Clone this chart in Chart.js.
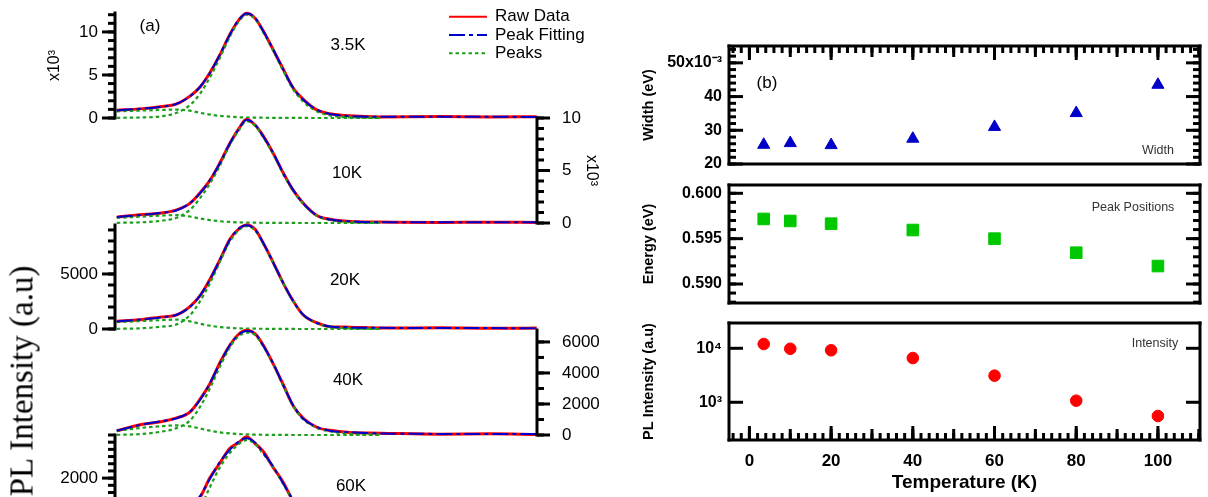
<!DOCTYPE html>
<html>
<head>
<meta charset="utf-8">
<script src="https://cdn.jsdelivr.net/npm/chart.js@4.4.1/dist/chart.umd.min.js"></script>
<style>
html, body { margin: 0; padding: 0; background: #fff; overflow: hidden; }
#wrap { position: relative; width: 1208px; height: 497px; overflow: hidden; font-family: "Liberation Sans", Arial, sans-serif; }
canvas { position: absolute; }
.lbl { position: absolute; transform: translate(-50%, -50%); white-space: nowrap; color: #000; }
</style>
</head>
<body>
<div id="wrap"></div>
<script>
// shared energy axis of the spectra (eV), no axis drawn for it
const energy = [0.5447, 0.5540, 0.5620, 0.5687, 0.5740, 0.5780, 0.5820, 0.5860, 0.5900, 0.5934, 0.5967, 0.6001,
                0.6034, 0.6074, 0.6114, 0.6154, 0.6194, 0.6248, 0.6301, 0.6381, 0.6501, 0.6742, 0.6942, 0.7129];

// 3.5K
const raw35  = [900, 1060, 1310, 1640, 2540, 3570, 5260, 7330, 9720, 11320, 12180, 11600, 10110, 7900, 5660, 3460, 2170, 940, 490, 250, 130, 170, 120, 140];
const fit35  = [880, 1080, 1280, 1660, 2510, 3600, 5230, 7360, 9690, 11350, 12150, 11630, 10070, 7940, 5620, 3490, 2130, 965, 465, 233, 150, 150, 140, 120];
const main35 = [20, 60, 180, 600, 1500, 2800, 4700, 7000, 9450, 11150, 12000, 11500, 9950, 7800, 5450, 3300, 1900, 780, 300, 80, 20];
const sh35   = [780, 860, 930, 980, 850, 600, 400, 250, 150, 90, 60, 40, 30, 20, 15, 10, 5, 0, 0, 0, 0];
// 10K
const raw10  = [560, 790, 930, 1250, 1870, 2850, 4060, 5720, 7570, 8910, 9880, 9330, 8270, 6620, 4760, 3100, 1890, 720, 350, 140, 90, 40, 80, 50];
const fit10  = [575, 760, 950, 1220, 1900, 2817, 4090, 5690, 7600, 8880, 9840, 9360, 8240, 6650, 4730, 3130, 1860, 740, 325, 163, 67, 60, 60, 60];
const main10 = [20, 60, 200, 500, 1250, 2350, 3750, 5450, 7450, 8750, 9700, 9250, 8150, 6550, 4650, 3050, 1800, 700, 280, 80, 20];
const sh10   = [480, 600, 700, 760, 620, 430, 280, 170, 100, 60, 40, 30, 20, 15, 10, 5, 0, 0, 0, 0, 0];
// 20K
const raw20  = [710, 840, 1080, 1280, 2030, 3000, 4510, 6270, 8150, 9060, 9440, 9060, 7790, 6030, 4150, 2540, 1270, 570, 210, 170, 90, 110, 60, 90];
const fit20  = [690, 860, 1050, 1300, 2000, 3027, 4480, 6300, 8118, 9090, 9420, 9027, 7818, 6000, 4180, 2509, 1300, 545, 236, 145, 110, 90, 80, 70];
const main20 = [20, 60, 200, 420, 1250, 2500, 4150, 6100, 7950, 8950, 9350, 8950, 7750, 5950, 4150, 2480, 1280, 520, 200, 60, 20];
const sh20   = [620, 720, 800, 850, 700, 480, 300, 180, 100, 60, 40, 30, 20, 15, 10, 5, 0, 0, 0, 0, 0];
// 40K
const raw40  = [270, 660, 850, 1100, 1480, 2290, 3300, 4660, 5780, 6480, 6750, 6520, 5790, 4570, 3240, 1870, 1080, 500, 300, 160, 120, 50, 80, 40];
const fit40  = [280, 650, 870, 1077, 1503, 2258, 3335, 4625, 5805, 6450, 6700, 6550, 5750, 4600, 3200, 1900, 1050, 520, 280, 180, 100, 70, 60, 60];
const main40 = [10, 60, 200, 450, 930, 1800, 3000, 4400, 5650, 6350, 6600, 6450, 5700, 4550, 3150, 1850, 1000, 470, 230, 80, 20];
const sh40   = [270, 450, 560, 620, 560, 420, 280, 170, 100, 60, 40, 25, 15, 10, 5, 0, 0, 0, 0, 0, 0];
// 60K
const raw60  = [320, 430, 630, 830, 1230, 1460, 2010, 2420, 2830, 2980, 3150, 2960, 2740, 2290, 1880, 1350, 980, 520, 330, 130, 100, 30, 60, 30];
const fit60  = [300, 450, 600, 850, 1200, 1490, 1980, 2450, 2790, 3010, 3110, 2990, 2700, 2320, 1850, 1380, 950, 550, 300, 150, 80, 50, 40, 40];
const main60 = [10, 40, 120, 300, 700, 1150, 1750, 2300, 2700, 2940, 3060, 2950, 2670, 2300, 1830, 1370, 940, 540, 290, 140, 60];
const sh60   = [150, 220, 300, 380, 350, 280, 200, 130, 80, 50, 30, 20, 15, 10, 5, 0, 0, 0, 0, 0, 0];

// panel (b)
const temps   = [3.5, 10, 20, 40, 60, 80, 100];
const widthEV = [0.0257, 0.0262, 0.0256, 0.0275, 0.0310, 0.0351, 0.0435];
const peakEV  = [0.59717, 0.59695, 0.59665, 0.59595, 0.5950, 0.59345, 0.59198];
const plInt   = [12000, 9800, 9180, 6600, 3110, 1070, 557];

// tick labels
const ticks35 = [0, 5000, 10000];
const ticks10 = [0, 5000, 10000];
const ticks20 = [0, 5000];
const ticks40 = [0, 2000, 4000, 6000];
const ticks60 = [2000];
const tempTicks = [0, 20, 40, 60, 80, 100];
const widthTicks = [0.02, 0.03, 0.04, 0.05];
const energyTicks = [0.590, 0.595, 0.600];
const intTicks = [1000, 10000];

Chart.defaults.font.family = '"Liberation Sans", Arial, sans-serif';
Chart.defaults.color = '#000';
Chart.defaults.plugins.legend.display = false;
Chart.defaults.plugins.tooltip.enabled = false;

function stepValues(min, max, step) {
    const out = [];
    for (let k = Math.ceil(min / step - 1e-6); k * step <= max + step * 1e-6; k++) out.push(k * step);
    return out;
}

// axis lines, boxes and tick marks; spec hangs on the canvas (kept out of chart.js option proxies)
const frame = {
    id: 'frame',
    afterDraw(chart) {
        const spec = chart.canvas.frameSpec;
        if (!spec) return;
        const ctx = chart.ctx, a = chart.chartArea;
        ctx.save();
        ctx.strokeStyle = '#000';
        ctx.lineWidth = 3;
        ctx.lineCap = 'square';
        (spec.lines || []).forEach(side => {
            ctx.beginPath();
            if (side === 'left') { ctx.moveTo(a.left, a.top); ctx.lineTo(a.left, a.bottom); }
            if (side === 'right') { ctx.moveTo(a.right, a.top); ctx.lineTo(a.right, a.bottom); }
            if (side === 'top') { ctx.moveTo(a.left, a.top); ctx.lineTo(a.right, a.top); }
            if (side === 'bottom') { ctx.moveTo(a.left, a.bottom); ctx.lineTo(a.right, a.bottom); }
            ctx.stroke();
        });
        ctx.lineCap = 'butt';
        (spec.marks || []).forEach(m => {
            const sc = chart.scales[m.scale];
            m.sets.forEach(set => {
                const vals = set.at || stepValues(sc.min, sc.max, set.step);
                ctx.lineWidth = set.width || 3;
                const len = m.inward ? set.len : -set.len;
                vals.forEach(v => {
                    const p = sc.getPixelForValue(v);
                    ctx.beginPath();
                    if (m.side === 'left') { ctx.moveTo(a.left, p); ctx.lineTo(a.left + len, p); }
                    if (m.side === 'right') { ctx.moveTo(a.right, p); ctx.lineTo(a.right - len, p); }
                    if (m.side === 'top') { ctx.moveTo(p, a.top); ctx.lineTo(p, a.top + len); }
                    if (m.side === 'bottom') { ctx.moveTo(p, a.bottom); ctx.lineTo(p, a.bottom - len); }
                    ctx.stroke();
                });
            });
        });
        ctx.restore();
    }
};

// legend of panel (a), drawn from the dataset styles
const legendLines = {
    id: 'legendLines',
    afterDraw(chart) {
        const o = chart.canvas.legendSpec;
        if (!o) return;
        const ctx = chart.ctx, a = chart.chartArea;
        ctx.save();
        o.order.forEach((lab, i) => {
            const ds = chart.data.datasets.find(d => d.label === lab);
            const x = a.left + o.x, y = a.top + o.y + i * o.dy;
            ctx.strokeStyle = ds.borderColor;
            ctx.lineWidth = 2;
            ctx.setLineDash(ds.borderDash || []);
            ctx.beginPath();
            ctx.moveTo(x, y);
            ctx.lineTo(x + o.len, y);
            ctx.stroke();
            ctx.setLineDash([]);
            ctx.fillStyle = '#000';
            ctx.font = '17px "Liberation Sans", Arial, sans-serif';
            ctx.textBaseline = 'middle';
            ctx.fillText(lab, x + o.len + 8, y);
        });
        ctx.restore();
    }
};
Chart.register(frame, legendLines);

const P = 40;
const wrap = document.getElementById('wrap');

// canvas placed so the chart area lands on the given page rectangle
function place(area, cfg, frameSpec, legendSpec) {
    const padR = area.padR || 0;
    const c = document.createElement('canvas');
    c.width = area.r - area.l + area.axL + area.axR + 2 * P + padR;
    c.height = area.b - area.t + area.axB + 2 * P;
    c.style.left = (area.l - area.axL - P) + 'px';
    c.style.top = (area.t - P) + 'px';
    c.frameSpec = frameSpec;
    c.legendSpec = legendSpec;
    wrap.appendChild(c);
    const o = cfg.options;
    o.responsive = false;
    o.animation = false;
    o.layout = { padding: { left: P, top: P, bottom: P, right: P + padR } };
    Object.values(o.scales).forEach(s => {
        s.afterFit = sc => {
            if (sc.isHorizontal()) sc.height = sc.options.display ? area.axB : 0;
            else sc.width = sc.options.position === 'right' ? area.axR : area.axL;
            sc.paddingTop = sc.paddingBottom = sc.paddingLeft = sc.paddingRight = 0;
        };
    });
    return new Chart(c, cfg);
}

function pts(vals) {
    return vals.map((v, i) => ({ x: energy[i], y: v }));
}

function line(label, vals, color, dash, width) {
    return {
        label, data: pts(vals), borderColor: color, borderWidth: width, borderDash: dash,
        pointRadius: 0, fill: false, cubicInterpolationMode: 'monotone', clip: false
    };
}

const GREEN = '#1ca01c';

function spectrum(area, s) {
    return place(area, {
        type: 'line',
        data: {
            datasets: [
                line('Peak Fitting', s.fit, '#0000cc', [16, 4, 4, 4], 2),
                line('Peaks', s.main, GREEN, [3.5, 3], 2.2),
                line('Peaks', s.sh, GREEN, [3.5, 3], 2.2),
                line('Raw Data', s.raw, '#ff0000', [], 3)
            ]
        },
        options: {
            scales: {
                x: { type: 'linear', min: 0.544, max: 0.713, display: false },
                y: {
                    type: 'linear', position: s.side, min: 0, max: s.max,
                    afterBuildTicks: sc => { sc.ticks = s.ticks.map(v => ({ value: v })); },
                    ticks: { callback: s.fmt, font: { size: 17 }, color: '#000', padding: s.side === 'left' ? 17 : 25 },
                    grid: { display: false, drawTicks: false },
                    border: { display: false },
                    title: s.title
                        ? { display: true, text: 'x10³', font: { size: 16 }, color: '#000', padding: { top: s.titlePad, bottom: 0 } }
                        : { display: false }
                }
            }
        }
    }, { lines: [s.side], marks: [{ scale: 'y', side: s.side, inward: false, sets: s.sets }] }, s.legend);
}

const kilo = v => v / 1000;
const plain = v => v;

spectrum({ l: 115, r: 537, t: 13, b: 118, axL: 115, axR: 0, axB: 0, padR: 90 }, {
    side: 'left', raw: raw35, fit: fit35, main: main35, sh: sh35, max: 12200, ticks: ticks35, fmt: kilo,
    sets: [{ step: 5000, len: 13 }, { step: 1000, len: 7 }], title: true, titlePad: 45,
    legend: { order: ['Raw Data', 'Peak Fitting', 'Peaks'], x: 334, y: 3.7, dy: 18.3, len: 38 }
});
spectrum({ l: 115, r: 537, t: 118, b: 223, axL: 0, axR: 70, axB: 0 }, {
    side: 'right', raw: raw10, fit: fit10, main: main10, sh: sh10, max: 10000, ticks: ticks10, fmt: kilo,
    sets: [{ step: 5000, len: 13 }, { step: 1000, len: 7 }], title: true, titlePad: 6
});
spectrum({ l: 115, r: 537, t: 225, b: 329, axL: 115, axR: 0, axB: 0 }, {
    side: 'left', raw: raw20, fit: fit20, main: main20, sh: sh20, max: 9450, ticks: ticks20, fmt: plain,
    sets: [{ step: 5000, len: 13 }, { step: 1000, len: 7 }]
});
spectrum({ l: 115, r: 537, t: 330, b: 435, axL: 0, axR: 70, axB: 0 }, {
    side: 'right', raw: raw40, fit: fit40, main: main40, sh: sh40, max: 6770, ticks: ticks40, fmt: plain,
    sets: [{ step: 2000, len: 13 }, { step: 1000, len: 7 }]
});
spectrum({ l: 115, r: 537, t: 435, b: 550, axL: 115, axR: 0, axB: 0 }, {
    side: 'left', raw: raw60, fit: fit60, main: main60, sh: sh60, max: 3200, ticks: ticks60, fmt: plain,
    sets: [{ step: 2000, len: 13 }, { step: 200, len: 7 }]
});

// panel (b)
const boldTick = { size: 16, weight: 'bold' };
const boldTitle = { size: 14.5, weight: 'bold' };
const xMarks = [{ step: 20, len: 14 }, { step: 10, len: 11 }, { step: 2, len: 7 }];

function yAxis(min, max, tickVals, fmt, title, type) {
    return {
        type: type || 'linear', position: 'left', min, max,
        afterBuildTicks: sc => { sc.ticks = tickVals.map(v => ({ value: v })); },
        ticks: { callback: fmt, font: boldTick, color: '#000', padding: 7 },
        grid: { display: false, drawTicks: false },
        border: { display: false },
        title: { display: true, text: title, font: boldTitle, color: '#000', padding: { top: 1, bottom: 0 } }
    };
}

function scatterSet(label, vals, style, radius, color) {
    return {
        label, data: temps.map((t, i) => ({ x: t, y: vals[i] })), pointStyle: style, pointRadius: radius,
        backgroundColor: color, borderColor: color, borderWidth: 1, showLine: false, clip: false
    };
}

const box = ['left', 'right', 'top', 'bottom'];

place({ l: 729, r: 1200, t: 46, b: 164, axL: 90, axR: 0, axB: 0 }, {
    type: 'scatter',
    data: { datasets: [scatterSet('Width', widthEV, 'triangle', 7, '#0000c8')] },
    options: {
        scales: {
            x: { type: 'linear', min: -5, max: 110.3, display: false },
            y: yAxis(0.020, 0.0550, widthTicks,
                v => Math.abs(v - 0.05) < 1e-9 ? '50x10⁻³' : String(Math.round(v * 1000)), 'Width (eV)')
        }
    }
}, {
    lines: box,
    marks: [
        { scale: 'y', side: 'left', inward: true, sets: [{ step: 0.01, len: 14 }, { step: 0.002, len: 7 }] },
        { scale: 'y', side: 'right', inward: true, sets: [{ step: 0.01, len: 14 }, { step: 0.002, len: 7 }] },
        { scale: 'x', side: 'top', inward: true, sets: xMarks }
    ]
});

place({ l: 729, r: 1200, t: 185, b: 303, axL: 90, axR: 0, axB: 0 }, {
    type: 'scatter',
    data: { datasets: [scatterSet('Peak Positions', peakEV, 'rect', 8.2, '#00c800')] },
    options: {
        scales: {
            x: { type: 'linear', min: -5, max: 110.3, display: false },
            y: yAxis(0.587905, 0.600915, energyTicks, v => v.toFixed(3), 'Energy (eV)')
        }
    }
}, {
    lines: box,
    marks: [
        { scale: 'y', side: 'left', inward: true, sets: [{ step: 0.005, len: 14 }, { step: 0.001, len: 7 }] },
        { scale: 'y', side: 'right', inward: true, sets: [{ step: 0.005, len: 14 }, { step: 0.001, len: 7 }] }
    ]
});

place({ l: 729, r: 1200, t: 323, b: 440, axL: 90, axR: 0, axB: 54 }, {
    type: 'scatter',
    data: { datasets: [scatterSet('Intensity', plInt, 'circle', 5.8, '#ff0000')] },
    options: {
        scales: {
            x: {
                type: 'linear', position: 'bottom', min: -5, max: 110.3,
                afterBuildTicks: sc => { sc.ticks = tempTicks.map(v => ({ value: v })); },
                ticks: { font: { size: 17, weight: 'bold' }, color: '#000', padding: 11, maxRotation: 0 },
                grid: { display: false, drawTicks: false },
                border: { display: false },
                title: { display: true, text: 'Temperature (K)', font: { size: 19, weight: 'bold' }, color: '#000', padding: 0 }
            },
            y: yAxis(200, 29410, intTicks, v => v === 1000 ? '10³' : '10⁴', 'PL Intensity (a.u)', 'logarithmic')
        }
    }
}, {
    lines: box,
    marks: [
        { scale: 'y', side: 'left', inward: true, sets: [{ at: intTicks, len: 14 }] },
        { scale: 'y', side: 'right', inward: true, sets: [{ at: intTicks, len: 14 }] },
        { scale: 'x', side: 'bottom', inward: true, sets: xMarks }
    ]
});

// text annotations
const notes = [
    { t: '(a)', x: 150, y: 26, s: 17 },
    { t: '3.5K', x: 348, y: 45, s: 17 },
    { t: '10K', x: 347, y: 173, s: 17 },
    { t: '20K', x: 345, y: 280, s: 17 },
    { t: '40K', x: 348, y: 380, s: 17 },
    { t: '60K', x: 351, y: 486, s: 17 },
    { t: '(b)', x: 767, y: 83, s: 17 },
    { t: 'Width', x: 1158, y: 150, s: 12.5, c: '#333' },
    { t: 'Peak Positions', x: 1133, y: 207, s: 12.5, c: '#333' },
    { t: 'Intensity', x: 1155, y: 343, s: 12.5, c: '#333' }
];
notes.forEach(n => {
    const d = document.createElement('div');
    d.className = 'lbl';
    d.textContent = n.t;
    d.style.left = n.x + 'px';
    d.style.top = n.y + 'px';
    d.style.fontSize = n.s + 'px';
    if (n.c) d.style.color = n.c;
    wrap.appendChild(d);
});
const big = document.createElement('div');
big.className = 'lbl';
big.textContent = 'PL Intensity (a.u)';
big.style.left = '22px';
big.style.top = '381px';
big.style.fontSize = '33px';
big.style.fontFamily = '"Liberation Serif", "Times New Roman", serif';
big.style.transform = 'translate(-50%, -50%) rotate(-90deg)';
wrap.appendChild(big);
</script>
</body>
</html>
